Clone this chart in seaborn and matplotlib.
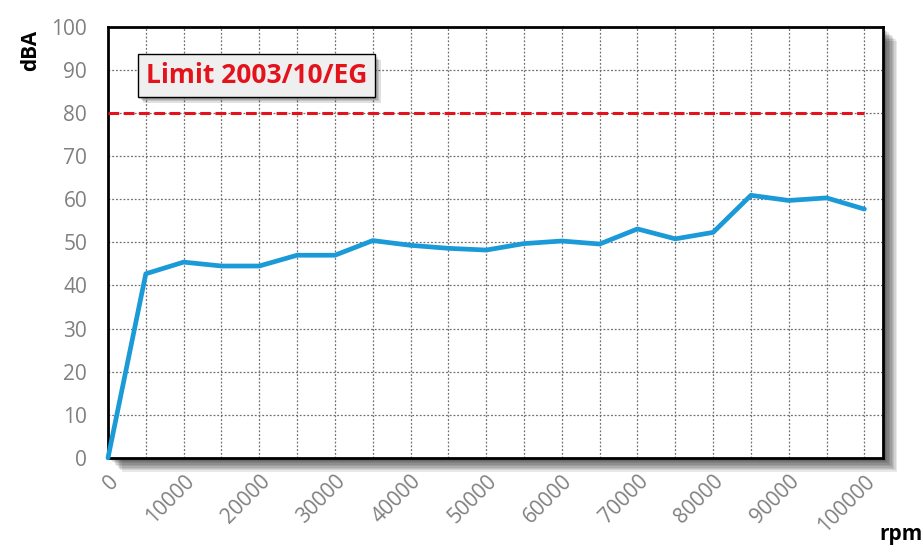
import numpy as np
import pandas as pd
import matplotlib
matplotlib.use("Agg")
import matplotlib.pyplot as plt
import matplotlib.patheffects as pe
import seaborn as sns

# ==========================================
# DATA
# ==========================================

rpm = [0, 5000, 10000, 15000, 20000, 25000, 30000, 35000, 40000, 45000,
       50000, 55000, 60000, 65000, 70000, 75000, 80000, 85000, 90000,
       95000, 100000]

dba = [0, 42.7, 45.4, 44.5, 44.5, 47.0, 47.0, 50.4, 49.3, 48.6,
       48.2, 49.7, 50.3, 49.6, 53.1, 50.8, 52.3, 60.9, 59.7,
       60.3, 57.7]

limit_db = 80
limit_label = "Limit 2003/10/EG"

x_ticks = list(range(0, 100001, 5000))
x_tick_labels = [str(v) if v % 10000 == 0 else "" for v in x_ticks]
y_ticks = list(range(0, 101, 10))

df = pd.DataFrame({"rpm": rpm, "dBA": dba})

# ==========================================
# STYLE
# ==========================================

sns.set_style("white")
plt.rcParams["font.family"] = ["Open Sans", "DejaVu Sans"]

fig = plt.figure(figsize=(9.23, 5.57), dpi=100)
ax = fig.add_axes([0.117, 0.178, 0.840, 0.774])

# drop shadow behind the plot frame
ax.patch.set_path_effects(
    [pe.SimplePatchShadow(offset=(k, -k), shadow_rgbFace="black", alpha=0.09)
     for k in range(2, 11)] + [pe.Normal()]
)

# ==========================================
# PLOT
# ==========================================

sns.lineplot(
    data=df,
    x="rpm",
    y="dBA",
    color="#1b9ad8",
    linewidth=3.4,
    ax=ax,
    zorder=4,
    clip_on=False
)

ax.plot(
    [0, 100000],
    [limit_db, limit_db],
    linestyle=(0, (3.5, 1.5)),
    color="#e3121b",
    linewidth=2.2,
    zorder=3
)

ax.set_xlim(0, 102500)
ax.set_ylim(0, 100)

ax.set_xticks(x_ticks)
ax.set_xticklabels(x_tick_labels, rotation=45, ha="right",
                   rotation_mode="anchor", color="#808080", fontsize=15)
ax.set_yticks(y_ticks)
ax.set_yticklabels([str(v) for v in y_ticks], color="#808080", fontsize=15)

ax.tick_params(axis="x", direction="inout", length=13, width=1.4,
               color="black", pad=3)
ax.tick_params(axis="y", direction="out", length=6, width=1.4,
               color="black", pad=9)

ax.grid(True, color="#707070", linestyle=(0, (1.5, 1.5)), linewidth=0.9)
ax.set_axisbelow(True)

for s in ax.spines.values():
    s.set_visible(True)
    s.set_color("black")
    s.set_linewidth(2)

ax.set_xlabel("")
ax.set_ylabel("")

fig.text(0.033, 0.91, "dBA", rotation=90, ha="center", va="center",
         fontsize=15, fontweight="bold", color="black")
fig.text(0.976, 0.04, "rpm", ha="center", va="center",
         fontsize=15, fontweight="bold", color="black")

# limit label box
t = ax.text(
    5000, 88.6, limit_label,
    ha="left", va="center",
    fontsize=19, fontweight="bold", color="#e3121b",
    zorder=6,
    bbox=dict(boxstyle="square,pad=0.3", facecolor="#efefef",
              edgecolor="black", linewidth=1.0)
)
t.get_bbox_patch().set_path_effects(
    [pe.SimplePatchShadow(offset=(k, -k), shadow_rgbFace="black", alpha=0.12)
     for k in range(1, 5)] + [pe.Normal()]
)

plt.savefig("out.png", dpi=100)
plt.close()
